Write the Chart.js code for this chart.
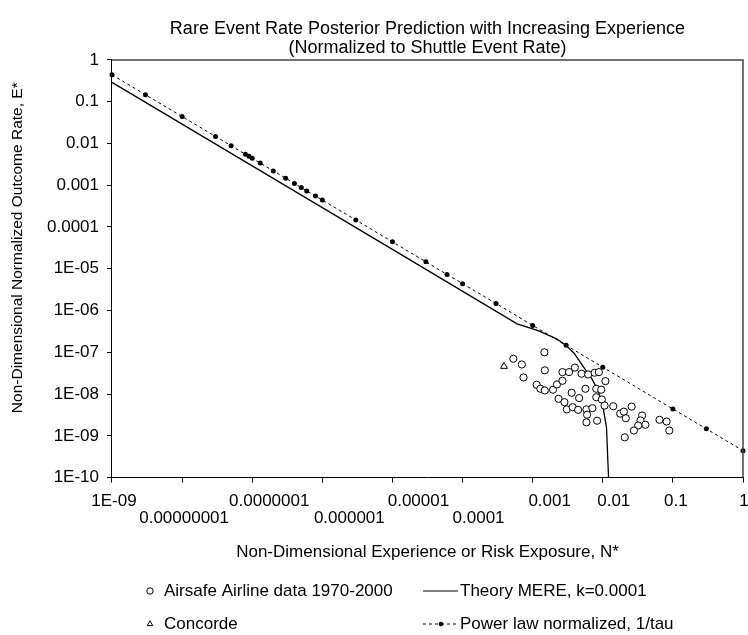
<!DOCTYPE html>
<html>
<head>
<meta charset="utf-8">
<script src="https://cdn.jsdelivr.net/npm/chart.js@4.4.1/dist/chart.umd.min.js"></script>
<style>
  html, body { margin: 0; padding: 0; background: #fff; }
  #wrap { position: relative; width: 748px; height: 635px; }
</style>
</head>
<body>
<div id="wrap"><canvas id="chart"></canvas></div>
<script>
// Rare event rate vs. non-dimensional experience (log-log).
// All values.

const X_TICKS = [1e-9, 1e-8, 1e-7, 1e-6, 1e-5, 1e-4, 1e-3, 1e-2, 1e-1, 1];
const X_TICK_LABELS = ["1E-09", "0.00000001", "0.0000001", "0.000001", "0.00001",
  "0.0001", "0.001", "0.01", "0.1", "1"];
const X_TICK_ROW = [0, 1, 0, 1, 0, 1, 0, 0, 0, 0];   // staggered labels, 1 = second row

const Y_TICKS = [1, 1e-1, 1e-2, 1e-3, 1e-4, 1e-5, 1e-6, 1e-7, 1e-8, 1e-9, 1e-10];
const Y_TICK_LABELS = ["1", "0.1", "0.01", "0.001", "0.0001", "1E-05", "1E-06",
  "1E-07", "1E-08", "1E-09", "1E-10"];

// Airsafe airline data 1970-2000
const AIRSAFE_N = [5.3e-4, 7.0e-4, 7.4e-4, 1.47e-3, 1.49e-3, 1.14e-3, 1.29e-3, 1.49e-3, 1.95e-3, 2.22e-3,
  2.66e-3, 2.66e-3, 3.3e-3, 4.0e-3, 4.98e-3, 6.2e-3, 7.66e-3, 8.8e-3, 1.09e-2, 5.66e-3,
  3.6e-3, 4.6e-3, 8.07e-3, 9.5e-3, 8.07e-3, 9.7e-3, 2.34e-3, 2.84e-3, 3.07e-3, 3.72e-3,
  4.45e-3, 5.85e-3, 7.1e-3, 5.97e-3, 5.85e-3, 8.3e-3, 1.06e-2, 1.41e-2, 1.77e-2, 2.13e-2,
  2.0e-2, 2.58e-2, 3.64e-2, 3.45e-2, 4.05e-2, 3.2e-2, 2.78e-2, 2.06e-2, 6.44e-2, 8.15e-2, 8.9e-2];
const AIRSAFE_E = [7.0e-8, 5.1e-8, 2.5e-8, 1.0e-7, 3.7e-8, 1.67e-8, 1.34e-8, 1.22e-8, 1.27e-8, 1.7e-8,
  2.08e-8, 3.35e-8, 3.35e-8, 4.3e-8, 3.07e-8, 2.95e-8, 3.24e-8, 3.35e-8, 2.04e-8, 1.34e-8,
  1.07e-8, 8.0e-9, 1.34e-8, 1.27e-8, 8.4e-9, 7.4e-9, 7.7e-9, 6.4e-9, 4.3e-9, 4.85e-9,
  4.2e-9, 4.3e-9, 4.6e-9, 3.2e-9, 2.1e-9, 2.3e-9, 5.3e-9, 5.1e-9, 3.4e-9, 2.64e-9,
  3.8e-9, 5.0e-9, 3.07e-9, 2.33e-9, 1.84e-9, 1.77e-9, 1.34e-9, 9.2e-10, 2.42e-9, 2.2e-9, 1.34e-9];

// Concorde
const CONCORDE_N = [3.9e-4];
const CONCORDE_E = [4.6e-8];

// Theory MERE, k=0.0001
const MERE_N = [1e-9, 1e-7, 1e-5, 6e-4, 1.2e-3, 2.2e-3, 3.0e-3, 3.9e-3, 5.3e-3, 7.0e-3,
  8.6e-3, 1.01e-2, 1.13e-2, 1.18e-2, 1.25e-2];
const MERE_E = [0.29, 2.9e-3, 2.9e-5, 4.8e-7, 3.3e-7, 2.1e-7, 1.45e-7, 9.5e-8, 4.5e-8, 2.3e-8,
  1.2e-8, 4.8e-9, 1.6e-9, 2.6e-10, 3e-11];

// Power law normalized, 1/tau
const POWER_N = [1e-9, 3e-9, 1e-8, 3e-8, 5e-8, 8e-8, 9e-8, 1e-7, 1.3e-7, 2e-7,
  3e-7, 4e-7, 5e-7, 6e-7, 8e-7, 1e-6, 3e-6, 1e-5, 3e-5, 6e-5,
  1e-4, 3e-4, 1e-3, 3e-3, 1e-2, 1e-1, 3e-1, 1];
const POWER_E = [0.44, 0.147, 0.044, 0.0147, 0.0088, 0.0055, 0.0049, 0.0044, 0.0034, 0.0022,
  0.00147, 0.0011, 0.00088, 0.00073, 0.00055, 0.00044, 0.000147, 4.4e-5, 1.47e-5, 7.3e-6,
  4.4e-6, 1.47e-6, 4.4e-7, 1.47e-7, 4.4e-8, 4.4e-9, 1.47e-9, 4.4e-10];

const FONT = '"Liberation Sans", Arial, Helvetica, sans-serif';
const X_LABEL_SHIFT = [2, 2, 17, 27, 26, 16, 17, 11, 3, 1];   // spreadsheet-style label drift, px

function pts(xs, ys) {
  return xs.map((x, i) => ({ x: x, y: ys[i] }));
}

function tickIndex(list, value) {
  return list.findIndex(t => Math.abs(Math.log10(t) - Math.log10(value)) < 1e-6);
}

// top and right edges of the plot box
const plotBox = {
  id: "plotBox",
  afterDraw(chart) {
    const a = chart.chartArea, ctx = chart.ctx;
    ctx.save();
    ctx.strokeStyle = "#444";
    ctx.lineWidth = 1.5;
    ctx.beginPath();
    ctx.moveTo(a.left, a.top);
    ctx.lineTo(a.right, a.top);
    ctx.lineTo(a.right, a.bottom);
    ctx.stroke();
    ctx.restore();
  }
};

// x tick labels in two staggered rows, y-axis title
const axisText = {
  id: "axisText",
  afterDraw(chart) {
    const ctx = chart.ctx, xs = chart.scales.x, a = chart.chartArea;
    ctx.save();
    ctx.fillStyle = "#000";
    ctx.font = "17px " + FONT;
    ctx.textAlign = "center";
    ctx.textBaseline = "middle";
    X_TICKS.forEach((v, i) => {
      const x = xs.getPixelForValue(v) + X_LABEL_SHIFT[i];
      const y = xs.top + 23.5 + X_TICK_ROW[i] * 17;
      ctx.fillText(X_TICK_LABELS[i], x, y);
    });
    ctx.translate(18, (a.top + a.bottom) / 2 - 21);
    ctx.rotate(-Math.PI / 2);
    ctx.font = "15.5px " + FONT;
    ctx.fillText("Non-Dimensional Normalized Outcome Rate, E*", 0, 0);
    ctx.restore();
  }
};

// two-column legend under the x-axis title
const LEGEND_COLS = [150, 423];
const LEGEND_ROWS = [591, 624];
const LEGEND_ITEMS = [
  { ds: 0, col: 0, row: 0 },
  { ds: 2, col: 1, row: 0 },
  { ds: 1, col: 0, row: 1 },
  { ds: 3, col: 1, row: 1 }
];

const boxLegend = {
  id: "boxLegend",
  afterDraw(chart) {
    const ctx = chart.ctx;
    ctx.save();
    ctx.font = "17px " + FONT;
    ctx.textBaseline = "middle";
    LEGEND_ITEMS.forEach(item => {
      const ds = chart.data.datasets[item.ds];
      const x = LEGEND_COLS[item.col], y = LEGEND_ROWS[item.row];
      ctx.strokeStyle = "#000";
      ctx.lineWidth = 1;
      if (item.col === 0) {
        ctx.setLineDash([]);
        ctx.fillStyle = "#fff";
        Chart.helpers.drawPoint(ctx, {
          pointStyle: ds.pointStyle, radius: 3.2, borderWidth: 1
        }, x, y);
        ctx.fillStyle = "#000";
        ctx.fillText(ds.label, x + 14, y);
      } else {
        ctx.fillStyle = "#000";
        ctx.setLineDash(ds.borderDash || []);
        ctx.beginPath();
        ctx.moveTo(x, y);
        ctx.lineTo(x + 35, y);
        ctx.stroke();
        ctx.setLineDash([]);
        if (ds.pointRadius > 0) {
          ctx.beginPath();
          ctx.arc(x + 18, y, 2.3, 0, Math.PI * 2);
          ctx.fill();
        }
        ctx.fillText(ds.label, x + 37, y);
      }
    });
    ctx.restore();
  }
};

new Chart(document.getElementById("chart"), {
  type: "scatter",
  data: {
    datasets: [
      {
        label: "Airsafe Airline data 1970-2000",
        data: pts(AIRSAFE_N, AIRSAFE_E),
        pointStyle: "circle",
        pointRadius: 3.6,
        borderWidth: 1,
        borderColor: "#000",
        backgroundColor: "#fff",
        showLine: false
      },
      {
        label: "Concorde",
        data: pts(CONCORDE_N, CONCORDE_E),
        pointStyle: "triangle",
        pointRadius: 4,
        borderWidth: 1,
        borderColor: "#000",
        backgroundColor: "#fff",
        showLine: false
      },
      {
        label: "Theory MERE, k=0.0001",
        data: pts(MERE_N, MERE_E),
        showLine: true,
        borderColor: "#000",
        borderWidth: 1.3,
        pointRadius: 0,
        tension: 0
      },
      {
        label: "Power law normalized, 1/tau",
        data: pts(POWER_N, POWER_E),
        showLine: true,
        borderColor: "#000",
        backgroundColor: "#000",
        borderWidth: 1,
        borderDash: [3, 3],
        pointStyle: "circle",
        pointRadius: 2.5,
        pointBorderWidth: 0,
        clip: 5
      }
    ]
  },
  options: {
    responsive: true,
    maintainAspectRatio: false,
    animation: false,
    layout: { padding: { left: 39, right: 2, top: 0, bottom: 72 } },
    plugins: {
      legend: { display: false },
      tooltip: { enabled: false },
      title: {
        display: true,
        fullSize: false,
        text: ["Rare Event Rate Posterior Prediction with Increasing Experience",
               "(Normalized to Shuttle Event Rate)"],
        color: "#000",
        font: { family: FONT, size: 18, weight: "normal", lineHeight: 1.08 },
        padding: { top: 19, bottom: 2 }
      }
    },
    scales: {
      x: {
        type: "logarithmic",
        min: 1e-9,
        max: 1,
        afterBuildTicks: scale => { scale.ticks = X_TICKS.map(v => ({ value: v })); },
        ticks: { display: false },
        grid: { drawOnChartArea: false, drawTicks: true, tickLength: 5, color: "#000" },
        border: { color: "#000", width: 1 },
        title: {
          display: true,
          text: "Non-Dimensional Experience or Risk Exposure, N*",
          color: "#000",
          font: { family: FONT, size: 17, lineHeight: 1.2 },
          padding: { top: 60, bottom: 0 }
        }
      },
      y: {
        type: "logarithmic",
        min: 1e-10,
        max: 1,
        afterBuildTicks: scale => { scale.ticks = Y_TICKS.map(v => ({ value: v })); },
        ticks: {
          color: "#000",
          autoSkip: false,
          padding: 8,
          font: { family: FONT, size: 17 },
          callback: value => {
            const i = tickIndex(Y_TICKS, value);
            return i < 0 ? "" : Y_TICK_LABELS[i];
          }
        },
        grid: { drawOnChartArea: false, drawTicks: true, tickLength: 5, color: "#000" },
        border: { color: "#000", width: 1 },
        title: { display: false }
      }
    }
  },
  plugins: [plotBox, axisText, boxLegend]
});
</script>
</body>
</html>
